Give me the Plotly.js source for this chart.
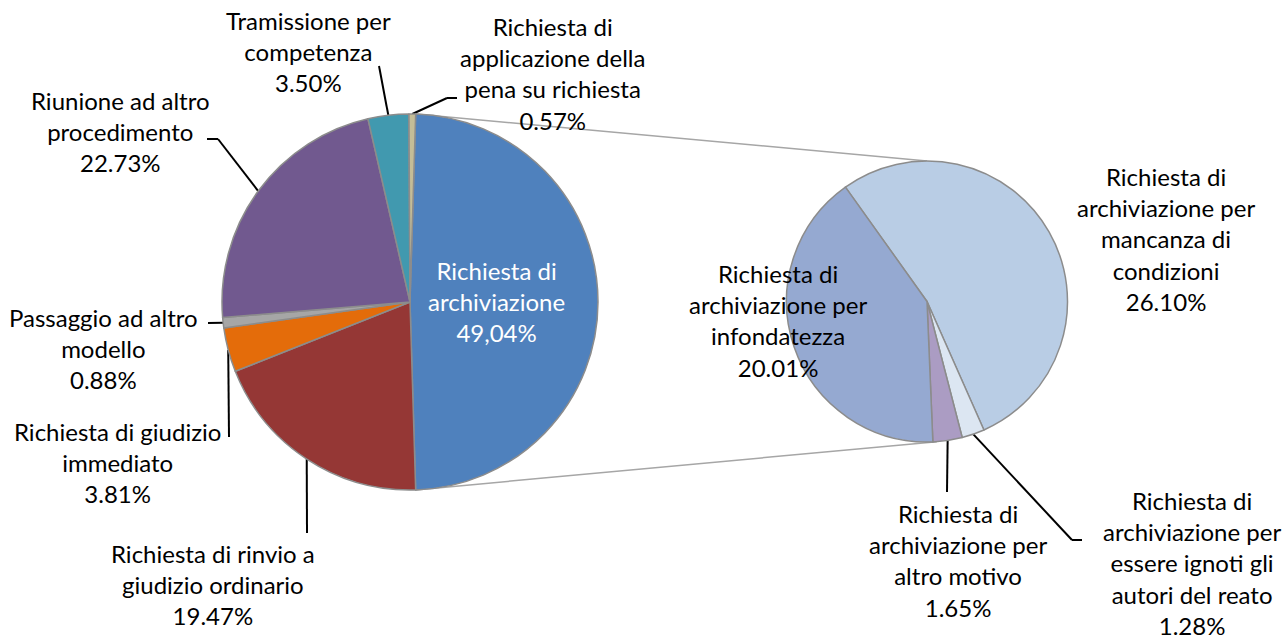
<!DOCTYPE html>
<html><head><meta charset="utf-8">
<script src="https://cdn.plot.ly/plotly-3.0.1.min.js"></script>
<style>html,body{margin:0;padding:0;background:#fff}</style>
</head><body><div id="chart" style="width:1285px;height:641px"></div>
<script>
// ---- data ----
const mainLabels = ["Richiesta di archiviazione", "Richiesta di rinvio a giudizio ordinario", "Richiesta di giudizio immediato", "Passaggio ad altro modello", "Riunione ad altro procedimento", "Tramissione per competenza", "Richiesta di applicazione della pena su richiesta"];
const mainValues = [49.04, 19.47, 3.81, 0.88, 22.73, 3.50, 0.57];
const mainText = ["Richiesta di<br>archiviazione<br>49,04%", "Richiesta di rinvio a<br>giudizio ordinario<br>19.47%", "Richiesta di giudizio<br>immediato<br>3.81%", "Passaggio ad altro<br>modello<br>0.88%", "Riunione ad altro<br>procedimento<br>22.73%", "Tramissione per<br>competenza<br>3.50%", "Richiesta di<br>applicazione della<br>pena su richiesta<br>0.57%"];
const mainColors = ["#4F81BD", "#953735", "#E46C0A", "#A6A6A6", "#71598F", "#4199AF", "#C4BD97"];

const subLabels = ["Richiesta di archiviazione per mancanza di condizioni", "Richiesta di archiviazione per essere ignoti gli autori del reato", "Richiesta di archiviazione per altro motivo", "Richiesta di archiviazione per infondatezza"];
const subValues = [26.10, 1.28, 1.65, 20.01];
const subText = ["Richiesta di<br>archiviazione per<br>mancanza di<br>condizioni<br>26.10%", "Richiesta di<br>archiviazione per<br>essere ignoti gli<br>autori del reato<br>1.28%", "Richiesta di<br>archiviazione per<br>altro motivo<br>1.65%", "Richiesta di<br>archiviazione per<br>infondatezza<br>20.01%"];
const subColors = ["#B9CDE5", "#DCE6F2", "#AB9CC3", "#95A9D1"];

// ---- layout geometry (pixels) ----
const W = 1285, H = 641;
const P1 = {cx: 410, cy: 302, r: 188};
const P2 = {cx: 927, cy: 301.5, r: 140.5};
const subRotation = -35.5;
const FONT = "Lato, 'Liberation Sans', Arial, sans-serif";
const FS = 24;

// label block centres and leader-line label-side points (pixels)
const mainLabelPos = [[496, 301], [213, 584], [117, 462], [103, 348], [120, 131], [308, 52], [552, 73]];
const mainLeader = [null, [[307, 533]], [[229, 437]], [[208, 323]], [[218, 139], [207, 139]], [[379, 66]], [[447, 98], [457, 98]]];
const subLabelPos = [[1166, 239], [1192, 563], [958, 560], [778, 320]];
const subLeader = [null, [[1072, 540], [1082, 540]], [[947, 492]], null];

const px = x => x / W, py = y => 1 - y / H;
const sum = a => a.reduce((s, v) => s + v, 0);
const mainTotal = sum(mainValues), subTotal = sum(subValues);
const mainRotation = 90 - (mainValues[0] / mainTotal) * 180;
const pt = (P, deg) => [P.cx + P.r * Math.sin(deg * Math.PI / 180), P.cy - P.r * Math.cos(deg * Math.PI / 180)];
function midAngles(vals, total, rot) {
  let c = 0; return vals.map(v => { const m = rot + (c + v / 2) / total * 360; c += v; return m; });
}
const mainMid = midAngles(mainValues, mainTotal, mainRotation);
const subMid = midAngles(subValues, subTotal, subRotation);

const dom = P => ({x: [px(P.cx - P.r), px(P.cx + P.r)], y: [py(P.cy + P.r), py(P.cy - P.r)]});
const border = {color: "#8C8C8C", width: 1.5};

const traces = [
  {type: "pie", labels: mainLabels, values: mainValues, sort: false, direction: "clockwise", rotation: mainRotation,
   marker: {colors: mainColors, line: border}, textinfo: "none", hoverinfo: "label+percent", domain: dom(P1), showlegend: false},
  {type: "pie", labels: subLabels, values: subValues, sort: false, direction: "clockwise", rotation: subRotation,
   marker: {colors: subColors, line: border}, textinfo: "none", hoverinfo: "label+value", domain: dom(P2), showlegend: false}
];

const shapes = [];
const line = (a, b, color, width) => shapes.push({type: "line", xref: "paper", yref: "paper", x0: px(a[0]), y0: py(a[1]), x1: px(b[0]), y1: py(b[1]), line: {color: color, width: width}, layer: "below"});
// connector lines between the split slice and the second pie
const aStart = mainRotation, aEnd = mainRotation + mainValues[0] / mainTotal * 360;
line(pt(P1, aStart), pt(P2, 0), "#A6A6A6", 1.5);
line(pt(P1, aEnd), pt(P2, 176), "#A6A6A6", 1.5);

function leaders(P, mids, defs) {
  defs.forEach((d, i) => {
    if (!d) return;
    let prev = pt(P, mids[i]);
    d.forEach(p => { line(prev, p, "#000000", 2); prev = p; });
  });
}
leaders(P1, mainMid, mainLeader);
leaders(P2, subMid, subLeader);

const annotations = [];
const addLab = (txt, pos, color) => annotations.push({text: txt, x: px(pos[0]), y: py(pos[1]), xref: "paper", yref: "paper", showarrow: false, xanchor: "center", yanchor: "middle", align: "center", font: {family: FONT, size: FS, color: color}});
mainText.forEach((t, i) => addLab(t, mainLabelPos[i], i === 0 ? "#FFFFFF" : "#000000"));
subText.forEach((t, i) => addLab(t, subLabelPos[i], "#000000"));

Plotly.newPlot("chart", traces, {
  width: W, height: H, margin: {l: 0, r: 0, t: 0, b: 0}, paper_bgcolor: "#FFFFFF",
  showlegend: false, shapes: shapes, annotations: annotations, font: {family: FONT}
}, {displayModeBar: false, staticPlot: true});
</script></body></html>
